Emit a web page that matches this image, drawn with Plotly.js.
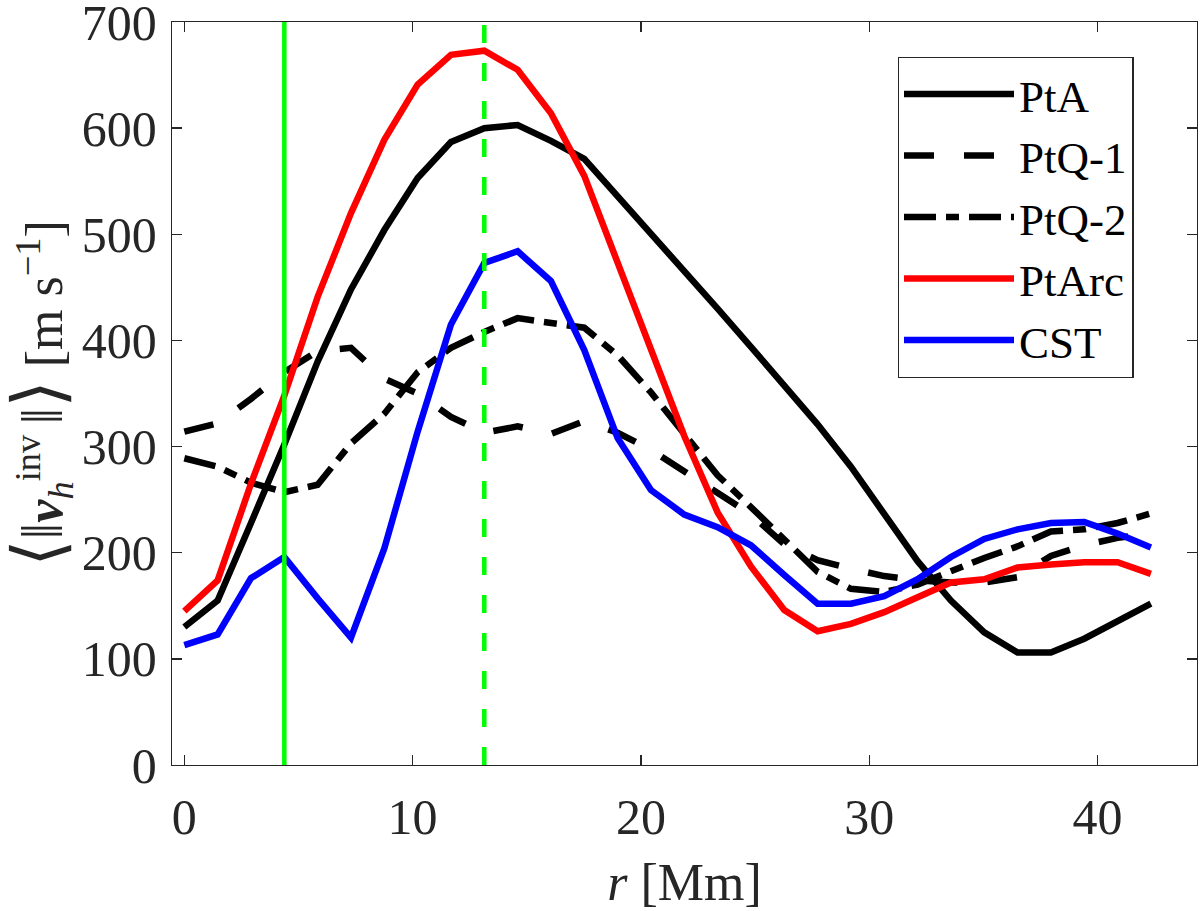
<!DOCTYPE html>
<html><head><meta charset="utf-8">
<script src="https://cdn.plot.ly/plotly-3.0.1.min.js"></script>
<style>html,body{margin:0;padding:0;background:#fff;} #chart{width:1200px;height:911px;}</style>
</head><body><div id="chart"></div>
<script>
// radial distance r [Mm]
const r = [0, 1.46, 2.92, 4.38, 5.84, 7.30, 8.76, 10.22, 11.68, 13.14, 14.60, 16.06, 17.52, 18.98, 20.44,
           21.90, 23.36, 24.82, 26.28, 27.74, 29.20, 30.66, 32.12, 33.58, 35.04, 36.50, 37.96, 39.42, 40.88, 42.34];
// mean horizontal velocity [m/s]
const ptA   = [130, 155, 228, 302, 380, 448, 504, 553, 587, 600, 603, 588, 571, 536, 501,
               467, 430, 394, 358, 321, 281, 236, 192, 155, 125, 106, 106, 119, 135, 152];
const ptQ1  = [314, 322, 345, 370, 390, 393, 364, 350, 328, 313, 319, 312, 324, 313, 297,
               277, 256, 236, 208, 193, 185, 178, 174, 172, 172, 177, 197, 207, 214, 218];
const ptQ2  = [289, 281, 266, 257, 264, 303, 331, 370, 393, 408, 421, 417, 412, 386, 351,
               312, 273, 243, 212, 182, 166, 163, 170, 183, 195, 206, 220, 222, 228, 237];
const ptArc = [145, 174, 265, 348, 441, 520, 589, 641, 669, 673, 655, 614, 555, 474, 390,
               310, 238, 187, 146, 126, 133, 144, 158, 172, 175, 186, 189, 191, 191, 180];
const cst   = [113, 123, 176, 196, 157, 120, 204, 314, 415, 473, 484, 456, 391, 308, 259,
               236, 224, 207, 179, 152, 152, 159, 175, 196, 213, 222, 228, 229, 218, 205];
const seriesNames = ['PtA', 'PtQ-1', 'PtQ-2', 'PtArc', 'CST'];
// vertical marker positions [Mm]
const markerSolid = 4.38;
const markerDashed = 13.14;
const xTicks = [0, 10, 20, 30, 40];
const yTicks = [0, 100, 200, 300, 400, 500, 600, 700];

const FONT = 'Liberation Serif, Times New Roman, DejaVu Serif, serif';
const LW = 6.5;
const mk = (y, name, color, dash) => ({
  x: r, y: y, name: name, type: 'scatter', mode: 'lines',
  line: {color: color, width: LW, dash: dash, shape: 'linear'}
});
const traces = [
  mk(ptA, seriesNames[0], '#000000', 'solid'),
  mk(ptQ1, seriesNames[1], '#000000', '30px,30px'),
  mk(ptQ2, seriesNames[2], '#000000', '32px,10px,13px,10px'),
  mk(ptArc, seriesNames[3], '#ff0000', 'solid'),
  mk(cst, seriesNames[4], '#0000ff', 'solid')
];

const axisCommon = {
  showline: true, mirror: 'ticks', linecolor: '#262626', linewidth: 1.3,
  ticks: 'inside', ticklen: 10, tickwidth: 1.3, tickcolor: '#262626',
  showgrid: false, zeroline: false, ticklabeloverflow: 'allow',
  tickfont: {family: FONT, size: 50, color: '#262626'}
};

const yTitle = '<span style="font-size:70px">⟨</span><span style="font-size:60px">‖</span>' +
  '<b><i>v</i></b><sub><i>h</i></sub><sup>inv</sup>\u2009' +
  '<span style="font-size:60px">‖</span><span style="font-size:70px">⟩</span> [m s<sup>−1</sup>]';

const layout = {
  width: 1200, height: 911,
  margin: {l: 172, r: 3, t: 22, b: 146},
  paper_bgcolor: '#ffffff', plot_bgcolor: '#ffffff',
  xaxis: Object.assign({}, axisCommon, {
    range: [-0.54, 44.36], tickvals: xTicks, ticktext: xTicks.map(String),
    ticklabelstandoff: 8,
    title: {text: '<i>r</i> [Mm]', font: {family: FONT, size: 52, color: '#262626'}, standoff: 22}
  }),
  yaxis: Object.assign({}, axisCommon, {
    range: [0, 700], tickvals: yTicks, ticktext: yTicks.map(String),
    ticklabelstandoff: 4,
    title: {text: yTitle, font: {family: FONT, size: 52, color: '#262626'}, standoff: 8}
  }),
  legend: {
    x: 0.708, y: 0.953, xanchor: 'left', yanchor: 'top',
    bgcolor: '#ffffff', bordercolor: '#262626', borderwidth: 1.3,
    font: {family: FONT, size: 45, color: '#000000'},
    itemwidth: 110, tracegroupgap: 0,
    entrywidth: 140, entrywidthmode: 'pixels'
  },
  shapes: [
    {type: 'line', xref: 'x', yref: 'paper', x0: markerSolid, x1: markerSolid, y0: 0, y1: 1,
     line: {color: '#00ff00', width: 4.5}, layer: 'above'},
    {type: 'line', xref: 'x', yref: 'paper', x0: markerDashed, x1: markerDashed, y0: 0, y1: 1,
     line: {color: '#00ff00', width: 4.5, dash: '18px,20px'}, layer: 'above'}
  ],
  showlegend: true
};
Plotly.newPlot('chart', traces, layout, {displayModeBar: false, staticPlot: true});
</script></body></html>
